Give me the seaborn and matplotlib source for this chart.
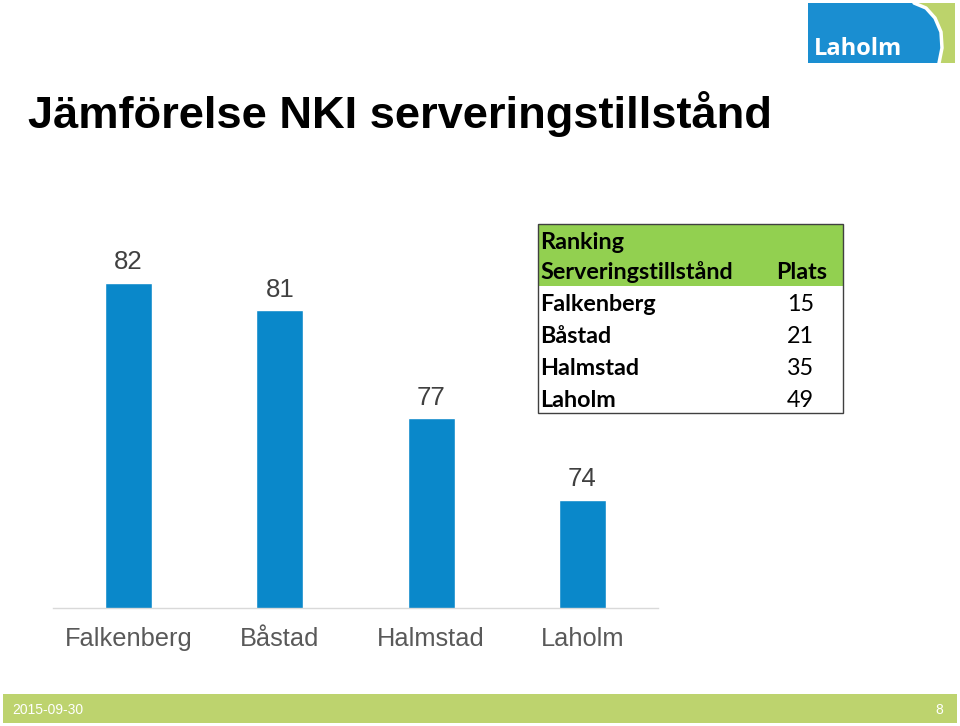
import matplotlib
matplotlib.use("Agg")
import matplotlib.pyplot as plt
import seaborn as sns
import pandas as pd
from matplotlib.patches import Rectangle, Polygon
from matplotlib.lines import Line2D

# ---- data ----
categories = ["Falkenberg", "Båstad", "Halmstad", "Laholm"]
nki_values = [82, 81, 77, 74]
table_cities = ["Falkenberg", "Båstad", "Halmstad", "Laholm"]
table_places = [15, 21, 35, 49]
title_text = "Jämförelse NKI serveringstillstånd"
footer_date = "2015-09-30"
page_number = "8"

sns.set_theme(style="white")
plt.rcParams["font.family"] = ["Liberation Sans", "DejaVu Sans"]

W, H = 960, 726
fig = plt.figure(figsize=(W / 100, H / 100), dpi=100)
fig.patch.set_facecolor("white")

def fx(x):
    return x / W

def fy(y):
    return 1 - y / H

# ---- bar chart ----
ax = fig.add_axes([fx(53), fy(608), fx(658) - fx(53), (608 - 228.6) / H])
df = pd.DataFrame({"kommun": categories, "nki": nki_values})
sns.barplot(data=df, x="kommun", y="nki", color="#0A88CA", width=0.31,
            saturation=1, ax=ax, errorbar=None)
ax.set_ylim(70, 84)
ax.set_xlim(-0.5, 3.5)
ax.set_xlabel("")
ax.set_ylabel("")
ax.set_yticks([])
for s in ["top", "right", "left"]:
    ax.spines[s].set_visible(False)
ax.spines["bottom"].set_color("#D9D9D9")
ax.spines["bottom"].set_linewidth(1)
ax.tick_params(axis="x", length=0, pad=14, labelsize=18.3, labelcolor="#595959")
ax.set_facecolor("none")
for c in ax.containers:
    ax.bar_label(c, labels=[str(v) for v in nki_values], padding=6,
                 fontsize=18.5, color="#404040")

# ---- title ----
fig.text(fx(28), fy(128), title_text, fontsize=32.6, fontweight="bold",
         color="black", ha="left", va="baseline")

# ---- table ----
tx0, tx1, ty0, ty1 = 538, 843, 224, 413
fig.patches.append(Rectangle((fx(tx0), fy(286)), fx(tx1) - fx(tx0), (286 - ty0) / H,
                             transform=fig.transFigure, facecolor="#92D050",
                             edgecolor="none", zorder=1))
fig.patches.append(Rectangle((fx(tx0), fy(ty1)), fx(tx1) - fx(tx0), (ty1 - ty0) / H,
                             transform=fig.transFigure, facecolor="none",
                             edgecolor="#404040", linewidth=1, zorder=2))
tfont = ["Lato", "DejaVu Sans"]
tsize = 16.8
fig.text(fx(540), fy(249), "Ranking", fontsize=tsize, fontweight="bold",
         family=tfont, ha="left", va="baseline", color="black")
fig.text(fx(540), fy(279), "Serveringstillstånd", fontsize=tsize, fontweight="bold",
         family=tfont, ha="left", va="baseline", color="black")
fig.text(fx(827), fy(279), "Plats", fontsize=tsize, fontweight="bold",
         family=tfont, ha="right", va="baseline", color="black")
for i, (c, p) in enumerate(zip(table_cities, table_places)):
    yb = 311 + i * 32
    fig.text(fx(540), fy(yb), c, fontsize=tsize, fontweight="bold",
             family=tfont, ha="left", va="baseline", color="black")
    fig.text(fx(814), fy(yb), str(p), fontsize=tsize, family=tfont,
             ha="right", va="baseline", color="black")

# ---- logo ----
fig.patches.append(Rectangle((fx(808), fy(63)), fx(955) - fx(808), 60 / H,
                             transform=fig.transFigure, facecolor="#1A8ED1",
                             edgecolor="none", zorder=1))
curve = [(914, 3), (926, 8), (935, 18), (941, 32), (942, 48), (939, 63)]
green = [(955, 3), (955, 63)] + curve[::-1]
fig.patches.append(Polygon([(fx(x), fy(y)) for x, y in green], closed=True,
                           transform=fig.transFigure, facecolor="#BCD36B",
                           edgecolor="none", zorder=2))
fig.lines.append(Line2D([fx(x) for x, y in curve], [fy(y) for x, y in curve],
                        transform=fig.transFigure, color="white", linewidth=2.5,
                        zorder=3))
fig.text(fx(814), fy(55), "Laholm", fontsize=17, fontweight="bold",
         family=["Open Sans", "DejaVu Sans"], color="white",
         ha="left", va="baseline", zorder=4)

# ---- footer ----
fig.patches.append(Rectangle((fx(3), fy(723)), fx(957) - fx(3), 29 / H,
                             transform=fig.transFigure, facecolor="#BDD36E",
                             edgecolor="none", zorder=1))
fig.text(fx(12), fy(714), footer_date, fontsize=10, color="white",
         ha="left", va="baseline")
fig.text(fx(943), fy(714), page_number, fontsize=10, color="white",
         ha="right", va="baseline")

fig.savefig("out.png", dpi=100, facecolor="white")
